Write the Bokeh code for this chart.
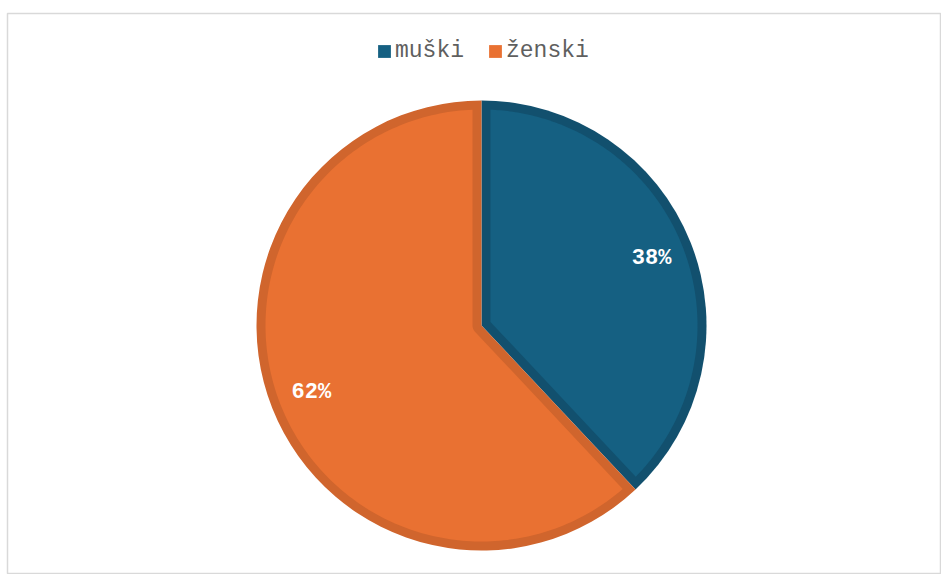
import math
from bokeh.plotting import figure
from bokeh.models import ColumnDataSource, Legend, LegendItem
from bokeh.core.properties import value
from bokeh.embed import file_html
from bokeh.resources import INLINE

# ---- data ----
categories = ["muški", "ženski"]
shares = [38, 62]
fill_colors = ["#156082", "#E97132"]
edge_colors = ["#12506E", "#D0652D"]

R = 225.0      # outer radius (px == data units)
D = 9.0        # inner border width
LABEL_R = 183.0

p = figure(width=941, height=574, output_backend="svg", toolbar_location=None,
           x_range=(-474, 460), y_range=(-249, 312),
           min_border_left=7, min_border_right=0, min_border_top=13, min_border_bottom=0)
p.axis.visible = False
p.grid.visible = False
p.outline_line_color = "#d9d9d9"
p.outline_line_width = 1.5
p.background_fill_color = "white"
p.border_fill_color = "white"

total = float(sum(shares))
# slices go clockwise from 12 o'clock
starts, ends = [], []
a = math.pi / 2
for s in shares:
    sweep = 2 * math.pi * s / total
    ends.append(a)
    starts.append(a - sweep)
    a -= sweep

def inset_polygon(a0, a1, r, d, n=200):
    th = a1 - a0
    rr = r - d
    delta = math.asin(d / rr)
    xs, ys = [], []
    for i in range(n + 1):
        t = a0 + delta + (th - 2 * delta) * i / n
        xs.append(rr * math.cos(t)); ys.append(rr * math.sin(t))
    if th < math.pi:
        ap = d / math.sin(th / 2)
        mid = (a0 + a1) / 2
        xs.append(ap * math.cos(mid)); ys.append(ap * math.sin(mid))
    else:
        b1 = a1 - math.pi / 2
        b0 = a0 + math.pi / 2
        m = 40
        for i in range(m + 1):
            t = b1 + (b0 - b1) * i / m
            xs.append(d * math.cos(t)); ys.append(d * math.sin(t))
    return xs, ys

src = ColumnDataSource(dict(start=starts, end=ends, color=edge_colors, cat=categories))
p.wedge(x=0, y=0, radius=R, start_angle="start", end_angle="end", direction="anticlock",
        fill_color="color", line_color=None, source=src)

pxs, pys = [], []
for a0, a1 in zip(starts, ends):
    xs, ys = inset_polygon(a0, a1, R, D)
    pxs.append(xs); pys.append(ys)
p.patches(xs=pxs, ys=pys, fill_color=fill_colors, line_color=None)

# labels
lx, ly, lt = [], [], []
for a0, a1, s in zip(starts, ends, shares):
    mid = (a0 + a1) / 2
    lx.append(LABEL_R * math.cos(mid)); ly.append(LABEL_R * math.sin(mid))
    lt.append(f"{s}%")
p.text(x=lx, y=ly, text=lt, text_align="center", text_baseline="middle",
       text_color="white", text_font=value("Liberation Mono"), text_font_style="bold",
       text_font_size="22px")

# legend
items = []
for cat, fc, ec in zip(categories, fill_colors, edge_colors):
    r = p.rect(x=[0], y=[0], width=1, height=1, fill_color=fc, line_color=None, visible=False)
    items.append(LegendItem(label=cat, renderers=[r]))
leg = Legend(items=items, orientation="horizontal", location=(369, 510),
             label_text_font="Liberation Mono", label_text_font_size="23px",
             label_text_color="#5f5f5f", glyph_width=16, glyph_height=16,
             label_standoff=3, spacing=23, padding=0, margin=0,
             border_line_color=None, background_fill_alpha=0)
p.add_layout(leg, "center")

open("out.html", "w").write(file_html(p, INLINE))
